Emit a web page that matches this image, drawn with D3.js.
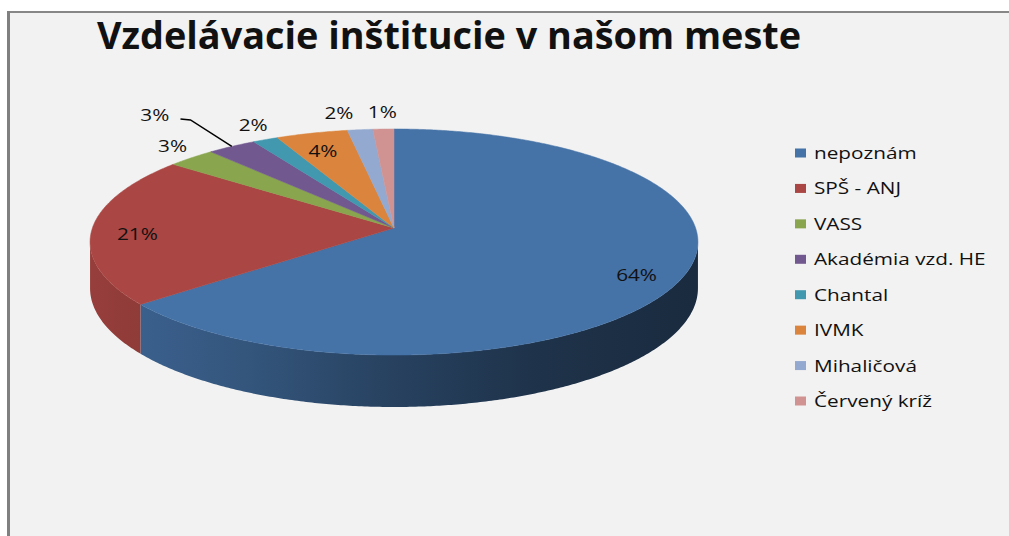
<!DOCTYPE html>
<html>
<head>
<meta charset="utf-8">
<script src="https://cdn.jsdelivr.net/npm/d3@7"></script>
<style>
  html, body { margin: 0; padding: 0; background: #fff; overflow: hidden; }
  svg { display: block; overflow: hidden; }
  text { font-family: 'Open Sans', sans-serif; fill: #111; }
</style>
</head>
<body>
<div id="chart"></div>
<script>
const title = 'Vzdelávacie inštitucie v našom meste';
const categories = ['nepoznám', 'SPŠ - ANJ', 'VASS', 'Akadémia vzd. HE', 'Chantal', 'IVMK', 'Mihaličová', 'Červený kríž'];
const values = [64.1, 21.45, 2.9, 2.95, 1.52, 4.3, 1.52, 1.26];
const colors = ['#4572A7', '#AA4643', '#89A54E', '#71588F', '#4198AF', '#DB843D', '#93A9CF', '#D19392'];

const width = 1009;
const height = 536;
const pie3d = { cx: 394, cy: 228, rx: 301.6, ry: 111.3, tilt: 0.124, depth: 45.5 };
const textStretch = 1.22;
// Excel moved this label away and drew a leader line to it
const callout = { name: 'Akadémia vzd. HE', dx: -77, dy: -31 };

const svg = d3.select('#chart')
  .append('svg')
  .attr('width', width)
  .attr('height', height);

// chart area (its right and bottom edges lie outside the picture)
svg.append('rect')
  .attr('x', 8.5)
  .attr('y', 12)
  .attr('width', width - 8)
  .attr('height', height - 11)
  .attr('fill', '#f2f2f2');
svg.append('line')
  .attr('x1', 8.5).attr('x2', width)
  .attr('y1', 12).attr('y2', 12)
  .attr('stroke', '#878787')
  .attr('stroke-width', 2);
svg.append('line')
  .attr('x1', 8.5).attr('x2', 8.5)
  .attr('y1', 11).attr('y2', height)
  .attr('stroke', '#808080')
  .attr('stroke-width', 3);

svg.append('text')
  .attr('x', 97)
  .attr('y', 49)
  .attr('textLength', 704)
  .attr('lengthAdjust', 'spacingAndGlyphs')
  .style('font-size', '37px')
  .style('font-weight', 'bold')
  .text(title);

const x = d3.scaleLinear().domain([-1, 1]).range([pie3d.cx - pie3d.rx, pie3d.cx + pie3d.rx]);
const y = d3.scaleLinear().domain([-1, 1]).range([pie3d.cy - pie3d.ry, pie3d.cy + pie3d.ry]);

// simple perspective: the front of the disc is drawn bigger than the back
function project(angle, r = 1, z = 0) {
  const u = r * Math.sin(angle);
  const v = -r * Math.cos(angle);
  const s = 1 / (1 - pie3d.tilt * v);
  return [x(u * s), y(v * s) + z * s];
}

function arcPoints(a0, a1, r, z) {
  const n = Math.max(2, Math.ceil((a1 - a0) / (Math.PI / 360)));
  return d3.range(n + 1).map((i) => project(a0 + (a1 - a0) * i / n, r, z));
}

const line = d3.line();
const total = d3.sum(values);
const pie = d3.pie().sort(null).value((d) => d.value);
const arcs = pie(categories.map((name, i) => ({ name, value: values[i], color: colors[i] })));

// side gradients, lighter on the left
const defs = svg.append('defs');
const shade = [[0, 0.88], [0.25, 0.75], [0.5, 0.57], [0.75, 0.44], [1, 0.38]];
arcs.forEach((d, i) => {
  const grad = defs.append('linearGradient')
    .attr('id', `side${i}`)
    .attr('gradientUnits', 'userSpaceOnUse')
    .attr('x1', x(-1)).attr('x2', x(1))
    .attr('y1', 0).attr('y2', 0);
  shade.forEach(([t, f]) => {
    const c = d3.rgb(d.data.color);
    grad.append('stop')
      .attr('offset', t)
      .attr('stop-color', d3.rgb(c.r * f, c.g * f, c.b * f));
  });
});

const lo = Math.acos(-pie3d.tilt);
const hi = 2 * Math.PI - lo;
const chart = svg.append('g');

chart.selectAll('path.side')
  .data(arcs.filter((d) => Math.min(d.endAngle, hi) > Math.max(d.startAngle, lo)))
  .enter()
  .append('path')
  .attr('class', 'side')
  .attr('fill', (d) => `url(#side${d.index})`)
  .attr('d', (d) => {
    const b0 = Math.max(d.startAngle, lo);
    const b1 = Math.min(d.endAngle, hi);
    const pts = arcPoints(b0, b1, 1, 0).concat(arcPoints(b0, b1, 1, pie3d.depth).reverse());
    return line(pts) + 'Z';
  });

chart.selectAll('path.top')
  .data(arcs)
  .enter()
  .append('path')
  .attr('class', 'top')
  .attr('fill', (d) => d.data.color)
  .attr('stroke', (d) => d.data.color)
  .attr('stroke-width', 0.5)
  .attr('d', (d) => line([project(0, 0)].concat(arcPoints(d.startAngle, d.endAngle, 1, 0))) + 'Z');

function stretchText(sel) {
  sel.each(function () {
    const w = this.getComputedTextLength();
    d3.select(this)
      .attr('textLength', w * textStretch)
      .attr('lengthAdjust', 'spacingAndGlyphs');
  });
}

// data labels
const capH = 12;
const labelLayer = svg.append('g').style('font-size', '17px');
const placed = [];
arcs.slice().reverse().forEach((d) => {
  const share = d.value / total;
  const mid = (d.startAngle + d.endAngle) / 2;
  const t = labelLayer.append('text')
    .attr('text-anchor', 'middle')
    .text(`${Math.round(share * 100)}%`)
    .call(stretchText);
  const w = t.node().getComputedTextLength() * textStretch;
  let cxL, cyL;
  if (share >= 0.04) {
    [cxL, cyL] = project(mid, 0.85);
    cyL += 5;
  } else {
    const [ax, ay] = project(mid, 1);
    const u = Math.sin(mid);
    const v = -Math.cos(mid);
    cxL = ax + u * (w / 2 + 8);
    cyL = ay + v * (capH / 2 + 11);
    if (d.data.name === callout.name) {
      cxL = ax + callout.dx;
      cyL = ay + callout.dy;
      const sx = cxL + w / 2 + 8;
      const sy = cyL + 3.5;
      labelLayer.append('path')
        .attr('d', line([[sx, sy], [sx + 10, sy + 1], [ax, ay]]))
        .attr('fill', 'none')
        .attr('stroke', '#000')
        .attr('stroke-width', 1.5);
    } else {
      const prev = placed[placed.length - 1];
      if (prev && !prev.inside && cxL + w / 2 + 8 > prev.left && Math.abs(cyL - prev.cy) < capH) {
        cxL -= cxL + w / 2 + 8 - prev.left;
      }
    }
  }
  placed.push({ left: cxL - w / 2, cy: cyL, inside: share >= 0.04 });
  t.attr('x', cxL).attr('y', cyL + capH / 2);
});

// legend
const rowY = d3.scalePoint().domain(categories).range([153, 401]);
const legend = svg.append('g').style('font-size', '17px');
const rows = legend.selectAll('g')
  .data(arcs)
  .enter()
  .append('g')
  .attr('transform', (d) => `translate(795,${rowY(d.data.name)})`);
rows.append('rect')
  .attr('x', 0)
  .attr('y', -4.5)
  .attr('width', 11)
  .attr('height', 9)
  .attr('fill', (d) => d.data.color);
rows.append('text')
  .attr('x', 19)
  .attr('y', capH / 2)
  .text((d) => d.data.name)
  .call(stretchText);
</script>
</body>
</html>
